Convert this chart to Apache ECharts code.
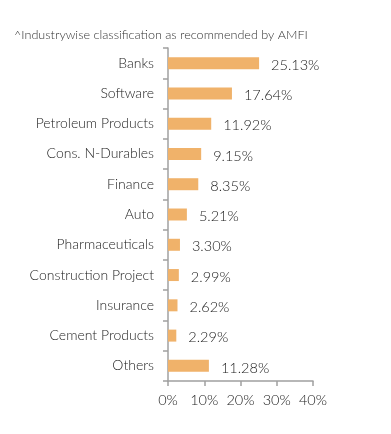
<!DOCTYPE html>
<html>
<head>
<meta charset="utf-8">
<script src="https://cdn.jsdelivr.net/npm/echarts@6/dist/echarts.min.js"></script>
<style>
html,body{margin:0;padding:0;background:#fff;}
#chart{width:391px;height:434px;}
</style>
</head>
<body>
<div id="chart"></div>
<script>
const titleText = "^Industrywise classification as recommended by AMFI";
const categories = ["Banks","Software","Petroleum Products","Cons. N-Durables","Finance","Auto","Pharmaceuticals","Construction Project","Insurance","Cement Products","Others"];
const values = [25.13,17.64,11.92,9.15,8.35,5.21,3.30,2.99,2.62,2.29,11.28];
const xTicks = [0,10,20,30,40];

const chart = echarts.init(document.getElementById('chart'));
chart.setOption({
  animation:false,
  textStyle:{fontFamily:'Lato'},
  title:{
    text:titleText, left:9, top:23,
    textStyle:{fontFamily:'Lato', fontSize:12.6, fontWeight:300, color:'#333'}
  },
  grid:{left:168, right:78, top:48, bottom:53, containLabel:false},
  xAxis:{
    type:'value', min:xTicks[0], max:xTicks[xTicks.length-1], interval:10,
    axisLine:{show:true, lineStyle:{color:'#a0a0a0', width:1.5}},
    axisTick:{show:true, length:5, lineStyle:{color:'#a0a0a0', width:1.5}},
    splitLine:{show:false},
    axisLabel:{formatter:'{value}%', fontFamily:'Lato', fontSize:14.5, fontWeight:300, color:'#222', margin:12}
  },
  yAxis:{
    type:'category', data:categories, inverse:true,
    axisLine:{show:true, lineStyle:{color:'#a0a0a0', width:1.5}},
    axisTick:{show:true, length:5, lineStyle:{color:'#a0a0a0', width:1.5}},
    axisLabel:{fontFamily:'Lato', fontSize:14, fontWeight:300, color:'#222', margin:14}
  },
  series:[{
    type:'bar', data:values, barWidth:12,
    itemStyle:{color:'#F0B26A'},
    label:{show:true, position:'right', distance:12, offset:[0,2],
      formatter:p=>p.value.toFixed(2)+'%', fontFamily:'Lato', fontSize:14.5, fontWeight:300, color:'#222'}
  }]
});
</script>
</body>
</html>
